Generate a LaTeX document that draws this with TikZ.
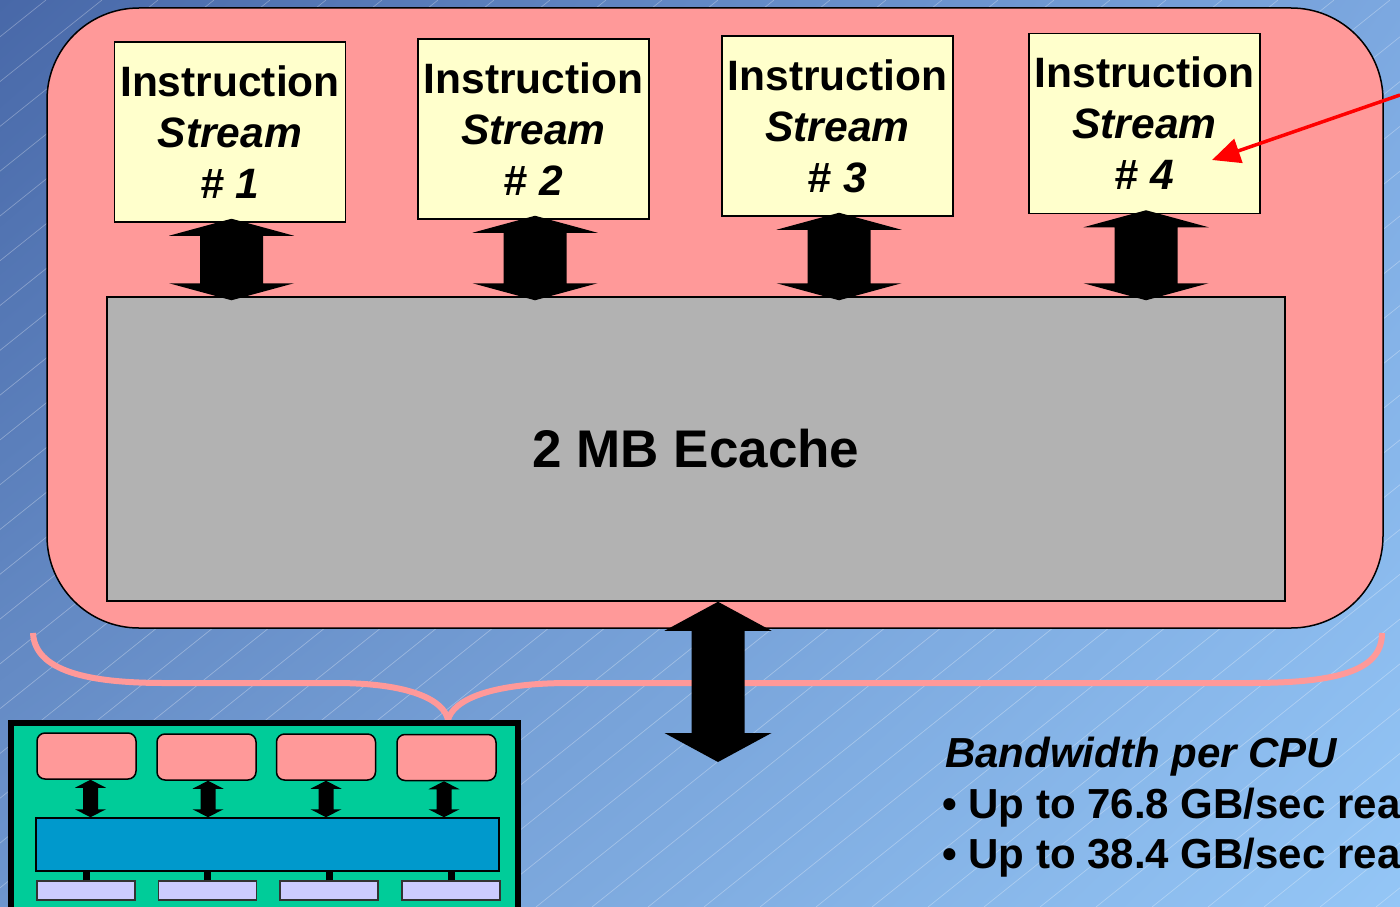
\documentclass[tikz,border=0pt]{standalone}
\usepackage{fontspec}
\setmainfont{Liberation Sans}
\usetikzlibrary{calc,arrows.meta,shadings}
\definecolor{bgUL}{HTML}{4868A8}
\definecolor{bgUR}{HTML}{7CA8E0}
\definecolor{bgLL}{HTML}{6E96CE}
\definecolor{bgLR}{HTML}{94C6F6}
\definecolor{pinkc}{HTML}{FF9999}
\definecolor{yelc}{HTML}{FFFFCC}
\definecolor{grayc}{HTML}{B2B2B2}
\definecolor{greenc}{HTML}{00CC99}
\definecolor{busc}{HTML}{0099CC}
\definecolor{lavc}{HTML}{CCCCFF}
\tikzset{
  dbl/.style n args={4}{to path={let \p1=(\tikztostart), \p2=(\tikztotarget) in
     (\x1,\y1+#4) -- (\x1+#1,\y1+#4-#3) -- (\x1+#2,\y1+#4-#3) -- (\x1+#2,\y2-#4+#3)
     -- (\x1+#1,\y2-#4+#3) -- (\x1,\y2-#4) -- (\x1-#1,\y2-#4+#3) -- (\x1-#2,\y2-#4+#3)
     -- (\x1-#2,\y1+#4-#3) -- (\x1-#1,\y1+#4-#3) -- cycle}},
  ibox/.style={draw=black, line width=1.5pt, fill=yelc, minimum width=231pt, minimum height=180pt,
     inner sep=0pt, align=center, font=\fontsize{42.5}{51}\selectfont\bfseries},
  cpink/.style={draw=black, line width=1.5pt, fill=pinkc, rounded corners=8pt, minimum width=99pt,
     minimum height=46pt, inner sep=0pt},
  lav/.style={draw=black!80, line width=1.2pt, fill=lavc, minimum width=98pt, minimum height=19pt, inner sep=0pt},
  bgline/.style={white, opacity=0.3, line width=0.7pt},
  brace/.style={pinkc, line width=6pt},
  bwtext/.style={anchor=base west, inner sep=0pt, font=\fontsize{42}{50}\selectfont\bfseries},
}
\begin{document}
\begin{tikzpicture}[x=1pt,y=-1pt]
\useasboundingbox (0,0) rectangle (1400,907);
\clip (0,0) rectangle (1400,907);
% background
\shade[upper left=bgUL, upper right=bgUR, lower left=bgLL, lower right=bgLR] (0,0) rectangle (1400,907);
\foreach \i in {-1200,-1144,...,1400} \draw[bgline] (\i,907) -- ++(1134,-907);
% outer processor
\draw[line width=1.5pt, fill=pinkc, rounded corners=92pt] (47,8) rectangle (1383,628);
% instruction streams
\node[ibox] (s1) at (230,132) {Instruction\\\textit{Stream}\\\textit{\# 1}};
\node[ibox] (s2) at (533.5,129) {Instruction\\\textit{Stream}\\\textit{\# 2}};
\node[ibox] (s3) at (837.5,126) {Instruction\\\textit{Stream}\\\textit{\# 3}};
\node[ibox] (s4) at (1144.5,123.5) {Instruction\\\textit{Stream}\\\textit{\# 4}};
% ecache
\node[draw=black, line width=1.5pt, fill=grayc, minimum width=1178pt, minimum height=304pt, inner sep=0pt,
  font=\fontsize{53}{60}\selectfont\bfseries] (ec) at (696,449) {2 MB Ecache};
% arrows streams <-> ecache
\foreach \s in {s1,s2,s3,s4}
  \fill[black] ([xshift=1.5pt]\s.south) to[dbl={62.5pt}{31.5pt}{17pt}{4pt}] (\s.south |- ec.north);
% brace
\draw[brace] (33,633) .. controls (35,675) and (100,683) .. (165,683) -- (335,683)
   .. controls (410,683) and (444,700) .. (448,720);
\draw[brace] (448,720) .. controls (453,700) and (490,683) .. (570,683) -- (1250,683)
   .. controls (1345,683) and (1382,668) .. (1382,633);
% memory arrow
\coordinate (memtip) at (718,762);
\fill[black] (ec.south -| memtip) to[dbl={53.5pt}{26.5pt}{29pt}{0pt}] (memtip);
% red arrow
\coordinate (rstart) at (1400,95);
\coordinate (rtip) at (1212,160);
\draw[red, line width=3.5pt, -{Triangle[length=28pt,width=25pt]}] (rstart) -- (rtip);
% chip
\draw[line width=6pt, fill=greenc] (11,723) rectangle (518,920);
\node[cpink] (c1) at (86.5,756) {};
\node[cpink] (c2) at (206.5,757) {};
\node[cpink] (c3) at (326,757) {};
\node[cpink] (c4) at (446.5,757.5) {};
\node[draw=black, line width=1.5pt, fill=busc, minimum width=463pt, minimum height=53pt, inner sep=0pt] (bus) at (267.5,844.5) {};
\node[lav] (l1) at (86,890.5) {};
\node[lav] (l2) at (207.5,890.5) {};
\node[lav] (l3) at (329,890.5) {};
\node[lav] (l4) at (451,890.5) {};
\fill[black] ([xshift=4pt]c1.south) to[dbl={15.5pt}{7.5pt}{8pt}{0pt}] (c1.south |- bus.north);
\fill[black] ([xshift=1.5pt]c2.south) to[dbl={15.5pt}{7.5pt}{8pt}{0pt}] (c2.south |- bus.north);
\fill[black] (c3.south) to[dbl={15.5pt}{7.5pt}{8pt}{0pt}] (c3.south |- bus.north);
\fill[black] ([xshift=-2.5pt]c4.south) to[dbl={15.5pt}{7.5pt}{8pt}{0pt}] (c4.south |- bus.north);
\foreach \l in {l1,l2,l3,l4}
  \draw[line width=7pt] (\l.north) -- (\l.north |- bus.south);
% bandwidth text
\node[bwtext] (bw) at (945,767) {\textit{Bandwidth per CPU}};
\node[bwtext] (b1) at (942,818) {• Up to 76.8 GB/sec rea};
\node[bwtext] (b2) at (942,868) {• Up to 38.4 GB/sec rea};
\end{tikzpicture}
\end{document}
